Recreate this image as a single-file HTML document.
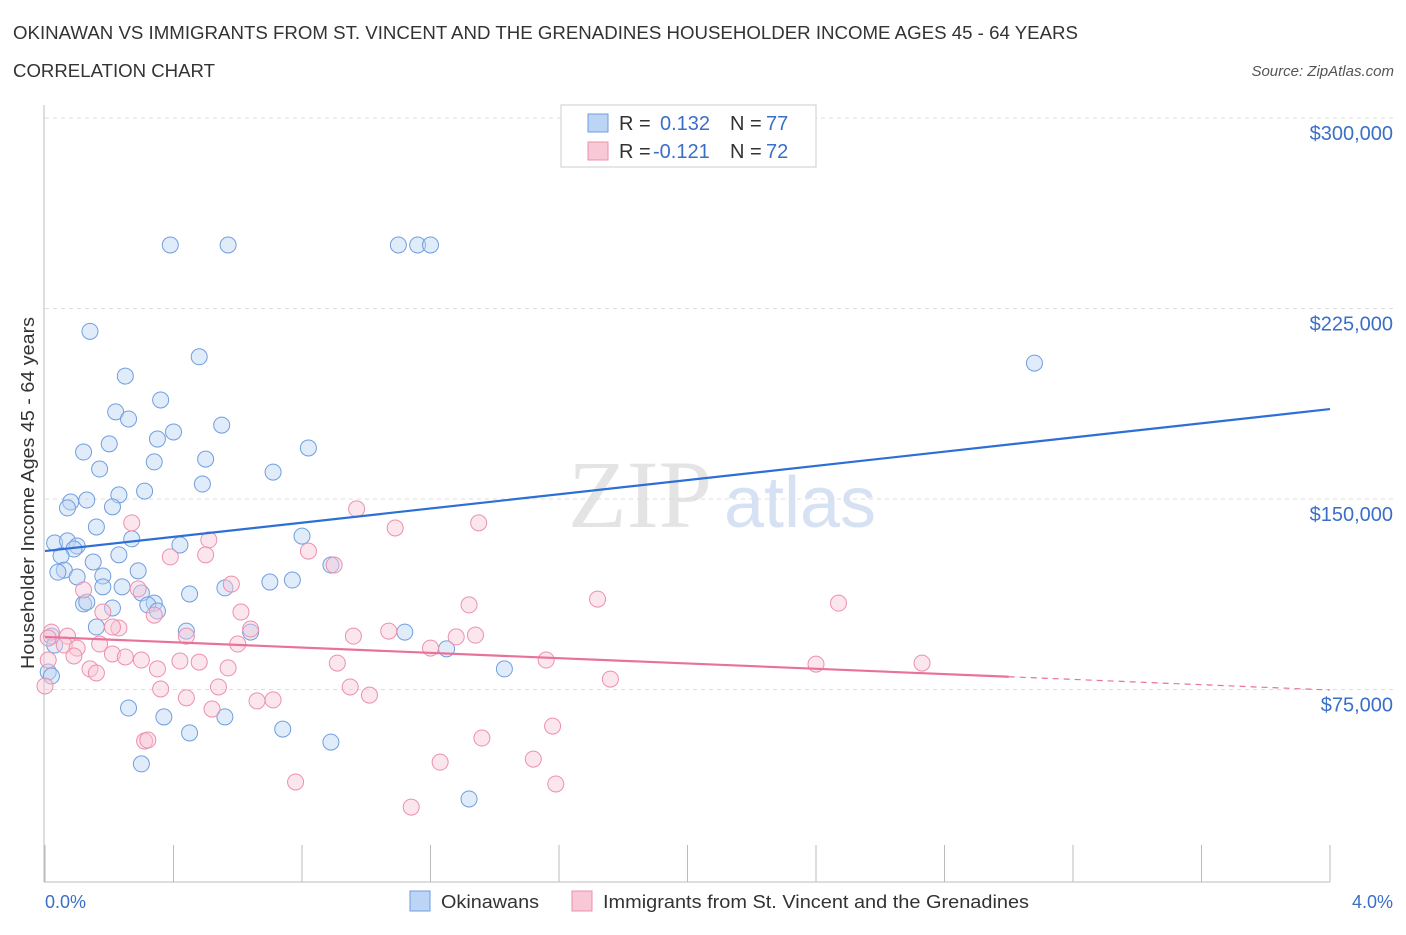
<!DOCTYPE html>
<html><head><meta charset="utf-8"><style>
body{margin:0;background:#fff;font-family:"Liberation Sans",sans-serif;}
</style></head><body>
<svg id="c" width="1406" height="930" xmlns="http://www.w3.org/2000/svg" font-family="Liberation Sans, sans-serif">
<text x="13" y="39" font-size="18" fill="#333" textLength="1065" lengthAdjust="spacingAndGlyphs">OKINAWAN VS IMMIGRANTS FROM ST. VINCENT AND THE GRENADINES HOUSEHOLDER INCOME AGES 45 - 64 YEARS</text>
<text x="13" y="77" font-size="18" fill="#333" textLength="202" lengthAdjust="spacingAndGlyphs">CORRELATION CHART</text>
<text x="1394" y="76" font-size="15" fill="#555" font-style="italic" text-anchor="end">Source: ZipAtlas.com</text>
<text x="640" y="527" font-size="96" fill="#e4e4e4" font-family="Liberation Serif, serif" text-anchor="middle">ZIP</text>
<text x="800" y="527" font-size="72" fill="#d6e2f3" text-anchor="middle">atlas</text>
<g id="grid"></g><g id="axes"></g><g id="pts"></g><g id="trend"></g>
<text transform="translate(34,493) rotate(-90)" font-size="18" fill="#333" text-anchor="middle" textLength="352" lengthAdjust="spacingAndGlyphs">Householder Income Ages 45 - 64 years</text>
<text x="45" y="908" font-size="18" fill="#3a6fc8">0.0%</text>
<text x="1393" y="908" font-size="18" fill="#3a6fc8" text-anchor="end">4.0%</text>
<g>
<rect x="561" y="105" width="255" height="62" fill="#fff" stroke="#ccc"/>
<rect x="588" y="114" width="20" height="18" fill="#bcd4f5" stroke="#6f9ee0"/>
<rect x="588" y="142" width="20" height="18" fill="#f9c8d6" stroke="#ec90ab"/>
<text x="619" y="130" font-size="20" fill="#333">R =</text><text x="660" y="130" font-size="20" fill="#3a6fc8">0.132</text>
<text x="730" y="130" font-size="20" fill="#333">N =</text><text x="766" y="130" font-size="20" fill="#3a6fc8">77</text>
<text x="619" y="158" font-size="20" fill="#333">R =</text><text x="653" y="158" font-size="20" fill="#3a6fc8">-0.121</text>
<text x="730" y="158" font-size="20" fill="#333">N =</text><text x="766" y="158" font-size="20" fill="#3a6fc8">72</text>
</g>
<g>
<rect x="410" y="891" width="20" height="20" fill="#bcd4f5" stroke="#6f9ee0"/>
<text x="441" y="908" font-size="18" fill="#333" textLength="98" lengthAdjust="spacingAndGlyphs">Okinawans</text>
<rect x="572" y="891" width="20" height="20" fill="#f9c8d6" stroke="#ec90ab"/>
<text x="603" y="908" font-size="18" fill="#333" textLength="426" lengthAdjust="spacingAndGlyphs">Immigrants from St. Vincent and the Grenadines</text>
</g>
</svg>
<script>
const yTicks=[75,150,225,300];
const yTickLabels=["$75,000","$150,000","$225,000","$300,000"];
const blueX=[0.39,0.57,1.10,1.16,1.20,0.14,0.48,3.08,0.25,0.22,0.26,0.36,0.55,0.40,0.35,0.20,0.12,0.82,0.34,0.50,0.17,0.71,0.49,0.31,0.23,0.08,0.13,0.07,0.21,0.16,0.27,0.80,0.42,0.03,0.07,0.10,0.09,0.05,0.23,0.15,0.06,0.04,0.10,0.18,0.29,0.18,0.24,0.70,0.77,0.89,0.30,0.45,0.56,0.12,0.13,0.34,0.32,0.35,0.21,0.16,0.44,0.64,1.12,1.25,0.02,0.03,1.43,0.01,0.26,0.37,0.56,0.45,0.74,0.89,0.30,1.32,0.02];
const blueY=[250,250,250,250,250,216,206,203.5,198.4,184.3,181.5,189,179.1,176.4,173.6,171.7,168.5,170.1,164.6,165.7,161.8,160.6,155.9,153.1,151.6,148.8,149.6,146.5,146.9,139,134.3,135.4,131.9,132.7,133.5,131.5,130.3,127.6,128,125.2,122,121.2,119.3,119.7,121.7,115.4,115.4,117.3,118.1,124,113,112.6,115,108.7,109.4,109,108.3,105.9,107.1,99.6,98,97.6,97.6,91,96,92.5,83.1,81.9,67.7,64.2,64.2,57.9,59.4,54.3,45.7,31.9,80.3];
const pinkX=[0.97,0.27,1.35,1.09,0.51,0.82,0.39,0.50,0.90,0.58,0.12,0.29,1.72,1.32,2.47,0.61,0.34,0.18,0.23,0.64,0.21,1.07,0.96,1.34,1.28,0.07,0.02,0.01,0.44,0.06,0.17,0.10,0.60,1.20,0.09,0.21,0.25,0.30,0.42,0.48,1.56,0.91,2.40,2.73,0.57,0.35,0.14,0.16,1.76,0.36,0.54,0.95,0.44,1.01,0.66,0.71,0.52,1.58,1.36,0.31,0.32,1.52,1.23,0.78,1.59,1.14,0.01,0.0];
const pinkY=[146.1,140.6,140.6,138.6,133.9,129.5,127.2,128,124,116.5,114.2,114.6,110.6,108.3,109,105.5,104.3,105.5,99.2,98.8,99.6,98,96,96.4,95.7,96,97.6,95.3,96,92.5,92.9,91.3,92.9,91.3,88.2,89,87.8,86.6,86.2,85.8,86.6,85.4,85,85.4,83.5,83.1,83.1,81.5,79.1,75.2,76,76,71.7,72.8,70.5,70.9,67.3,60.6,55.9,54.7,55.1,47.6,46.4,38.6,37.8,28.7,86.6,76.4];
const blueTrend=[129.5,185.4];
const pinkTrend=[95.7,74.8];
const NS="http://www.w3.org/2000/svg";
const X=p=>45+p*321.25;
const Y=v=>880-v*2.54;
function mk(parent,tag,attrs){const e=document.createElementNS(NS,tag);for(const k in attrs)e.setAttribute(k,attrs[k]);document.getElementById(parent).appendChild(e);return e;}
yTicks.forEach((t,i)=>{
 let g=mk('grid','line',{x1:45,x2:1394,y1:Y(t),y2:Y(t),stroke:'#ddd','stroke-dasharray':'4,4'});
 
 
 let l=mk('grid','text',{x:1393,y:Y(t)+22,'font-size':20,fill:'#3a6fc8','text-anchor':'end'});
 l.textContent=yTickLabels[i];
 
 
});
let ya=mk('axes','line',{x1:44,x2:44,y1:105,y2:882,stroke:'#bbb'});


let xa=mk('axes','line',{x1:44,x2:1330,y1:882,y2:882,stroke:'#bbb'});


for(let i=0;i<=10;i++){
 let t=mk('axes','line',{x1:X(i*0.4),x2:X(i*0.4),y1:845,y2:882,stroke:'#bbb'});
 
 
}
function pts(xs,ys,fill,stroke,name){
 xs.forEach((x,i)=>{
  const c=mk('pts','circle',{cx:X(x),cy:Y(ys[i]),r:8,fill:fill,stroke:stroke,'stroke-width':1,'fill-opacity':0.45});
  
  
 });
}
pts(blueX,blueY,'#bcd4f5','#6f9ee0','okinawan-point');
pts(pinkX,pinkY,'#f9c8d6','#ec90ab','immigrant-point');
let bt=mk('trend','line',{x1:X(0),y1:Y(blueTrend[0]),x2:X(4),y2:Y(blueTrend[1]),stroke:'#2e6fd6','stroke-width':2.2});


const pAt=p=>pinkTrend[0]+(pinkTrend[1]-pinkTrend[0])*p/4;
let pt=mk('trend','line',{x1:X(0),y1:Y(pinkTrend[0]),x2:X(3),y2:Y(pAt(3)),stroke:'#e8729a','stroke-width':2.2});


let pd=mk('trend','line',{x1:X(3),y1:Y(pAt(3)),x2:X(4),y2:Y(pinkTrend[1]),stroke:'#e8729a','stroke-width':1.2,'stroke-dasharray':'6,5'});


</script>
</body></html>
